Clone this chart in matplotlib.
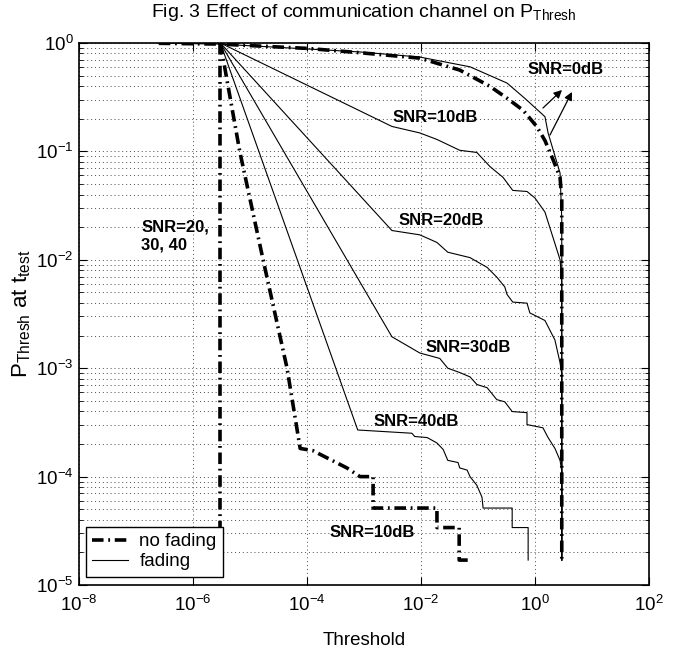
import numpy as np
import matplotlib.pyplot as plt
from matplotlib.ticker import LogLocator, NullLocator, NullFormatter

plt.rcParams['font.family'] = ['Liberation Sans', 'DejaVu Sans']
plt.rcParams['mathtext.default'] = 'regular'

# all curves stored as log10(threshold), log10(P)
# no fading (thick dash-dot)
nf_snr0_lx = [-6.6, -5.54, -4.0, -3.07, -2.02, -1.32, -0.79, -0.49, -0.21, 0.03, 0.175, 0.32, 0.44, 0.47, 0.47]
nf_snr0_ly = [-0.003, -0.01, -0.05, -0.09, -0.14, -0.25, -0.40, -0.51, -0.62, -0.77, -0.90, -1.08, -1.24, -1.45, -4.77]

nf_snr10_lx = [-5.52, -5.18, -4.77, -4.35, -4.12, -3.9, -3.6, -3.3, -3.07, -2.84, -2.84, -1.72, -1.72, -1.33, -1.33, -1.14]
nf_snr10_ly = [0.0, -1.0, -2.0, -3.0, -3.74, -3.76, -3.84, -3.92, -4.0, -4.0, -4.29, -4.29, -4.47, -4.47, -4.77, -4.77]

nf_snr_high_lx = [-5.52, -5.52]          # SNR = 20, 30, 40 dB coincide
nf_snr_high_ly = [0.0, -4.77]

# fading (thin solid)
f_snr0_lx = [-6.6, -5.54, -4.0, -3.07, -2.02, -1.14, -0.49, -0.18, 0.175, 0.23, 0.44, 0.47, 0.47]
f_snr0_ly = [-0.002, -0.01, -0.055, -0.083, -0.13, -0.22, -0.37, -0.51, -0.68, -0.83, -1.20, -1.62, -4.77]

f_snr10_lx = [-5.52, -2.51, -2.02, -1.72, -1.32, -1.02, -0.79, -0.56, -0.39, -0.14, 0.0, 0.175, 0.44, 0.47, 0.47]
f_snr10_ly = [0.0, -0.77, -0.83, -0.89, -0.99, -1.01, -1.14, -1.24, -1.36, -1.37, -1.43, -1.56, -2.0, -2.2, -4.77]

f_snr20_lx = [-5.52, -2.51, -2.02, -1.72, -1.53, -1.14, -0.84, -0.67, -0.53, -0.49, -0.39, -0.14, -0.09, 0.175, 0.35, 0.44, 0.47, 0.47]
f_snr20_ly = [0.0, -1.73, -1.77, -1.84, -1.93, -1.98, -2.07, -2.16, -2.25, -2.32, -2.39, -2.40, -2.49, -2.56, -2.74, -2.95, -3.05, -4.77]

f_snr30_lx = [-5.52, -2.51, -2.02, -1.67, -1.53, -1.32, -1.14, -1.02, -0.84, -0.67, -0.53, -0.40, -0.14, -0.14, 0.14, 0.23, 0.35, 0.44, 0.47, 0.47]
f_snr30_ly = [0.0, -2.71, -2.86, -2.91, -3.0, -3.04, -3.08, -3.15, -3.18, -3.29, -3.31, -3.40, -3.41, -3.52, -3.55, -3.64, -3.74, -3.85, -3.95, -4.77]

f_snr40_lx = [-5.52, -3.11, -2.16, -2.11, -1.89, -1.72, -1.61, -1.53, -1.35, -1.32, -1.19, -1.14, -1.02, -0.93, -0.91, -0.40, -0.40, -0.12, -0.12]
f_snr40_ly = [0.0, -3.57, -3.60, -3.63, -3.64, -3.69, -3.75, -3.85, -3.87, -3.92, -3.94, -4.0, -4.08, -4.19, -4.29, -4.29, -4.47, -4.47, -4.77]

# curve labels: text, log10 x, log10 y
labels = [
    ('SNR=0dB', 0.544, -0.249),
    ('SNR=10dB', -1.754, -0.692),
    ('SNR=20dB', -1.65, -1.64),
    ('SNR=30dB', -1.175, -2.81),
    ('SNR=40dB', -2.09, -3.49),
    ('SNR=10dB', -2.86, -4.52),
]

# arrows for SNR=0dB: tail (x, y), head (x, y) in log10
arrows = [((0.14, -0.60), (0.474, -0.434)),
          ((0.263, -0.849), (0.649, -0.452))]


def p(v):
    return 10 ** np.asarray(v)


fig = plt.figure(figsize=(6.77, 6.56), dpi=100)
ax = fig.add_axes([0.1167, 0.1082, 0.8419, 0.8263])

thick = dict(color='black', lw=2.6, dashes=(3.2, 1.3, 0.5, 1.3))
thin = dict(color='black', lw=0.8)

ax.plot(p(nf_snr0_lx), p(nf_snr0_ly), label='no fading', **thick)
ax.plot(p(nf_snr10_lx), p(nf_snr10_ly), **thick)
ax.plot(p(nf_snr_high_lx), p(nf_snr_high_ly), **thick)

ax.plot(p(f_snr0_lx), p(f_snr0_ly), label='fading', **thin)
for lx, ly in [(f_snr10_lx, f_snr10_ly), (f_snr20_lx, f_snr20_ly),
               (f_snr30_lx, f_snr30_ly), (f_snr40_lx, f_snr40_ly)]:
    ax.plot(p(lx), p(ly), **thin)

ax.set_xscale('log')
ax.set_yscale('log')
ax.set_xlim(1e-8, 1e2)
ax.set_ylim(1e-5, 1)

ax.set_xticks([1e-8, 1e-6, 1e-4, 1e-2, 1e0, 1e2])
ax.xaxis.set_minor_locator(NullLocator())
ax.yaxis.set_major_locator(LogLocator(base=10, numticks=10))
ax.yaxis.set_minor_locator(LogLocator(base=10, subs=np.arange(2, 10), numticks=10))
ax.yaxis.set_minor_formatter(NullFormatter())

ax.grid(True, which='major', axis='x', ls=(0, (1, 3)), color='0.3', lw=0.7)
ax.grid(True, which='both', axis='y', ls=(0, (1, 3)), color='0.3', lw=0.7)

ax.tick_params(which='both', direction='in', top=True, right=True, labelsize=13.5)
ax.tick_params(which='major', length=6, width=0.8)
ax.tick_params(which='minor', length=3, width=0.6)
ax.tick_params(axis='x', pad=7)
ax.tick_params(axis='y', pad=4)
for s in ax.spines.values():
    s.set_linewidth(1.2)

for txt, lx, ly in labels:
    ax.text(10 ** lx, 10 ** ly, txt, fontsize=12, fontweight='bold',
            ha='center', va='center')
ax.text(10 ** -6.91, 10 ** -1.78, 'SNR=20,\n30, 40', fontsize=12,
        fontweight='bold', ha='left', va='center', linespacing=1.2)

for (tx, ty), (hx, hy) in arrows:
    ax.annotate('', xy=(10 ** hx, 10 ** hy), xytext=(10 ** tx, 10 ** ty),
                annotation_clip=False,
                arrowprops=dict(arrowstyle='-|>', color='black', lw=0.9,
                                mutation_scale=12, shrinkA=0, shrinkB=0))

leg = ax.legend(loc='lower left', bbox_to_anchor=(0.012, 0.015), borderaxespad=0,
                fontsize=13.5, fancybox=False, framealpha=1, edgecolor='black',
                handlelength=1.9, handletextpad=0.6, borderpad=0.35, labelspacing=0.15)
leg.get_frame().set_linewidth(1.0)

ax.set_title('Fig. 3 Effect of communication channel on P$_{Thresh}$', fontsize=14, pad=19)
ax.set_xlabel('Threshold', fontsize=13.5, labelpad=12)
ax.set_ylabel('P$_{Thresh}$ at t$_{test}$', fontsize=16, labelpad=2)

fig.savefig('out.png', dpi=100)
